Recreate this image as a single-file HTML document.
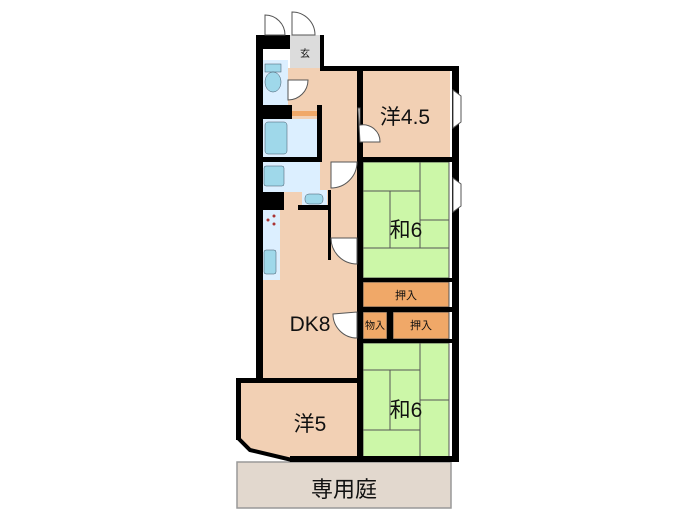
<!DOCTYPE html>
<html><head><meta charset="utf-8"><style>
html,body{margin:0;padding:0;background:#fff;width:700px;height:525px;overflow:hidden}
svg text{font-family:"Liberation Sans","Noto Sans CJK JP",sans-serif;fill:#111}
</style></head><body>
<svg width="700" height="525" viewBox="0 0 700 525" xmlns="http://www.w3.org/2000/svg">
<rect x="237" y="462" width="214" height="46" fill="#e2d8ce" stroke="#999" stroke-width="1.5"/>
<text x="344" y="497" font-size="22" text-anchor="middle">専用庭</text>
<rect x="262" y="68" width="95" height="312" fill="#f2d0b4"/>
<rect x="363" y="70" width="87" height="87" fill="#f2d0b4"/>
<path d="M240 383 H358 V458 H292 L250 448 L240 438 Z" fill="#f2d0b4"/>
<rect x="290" y="35" width="30" height="33" fill="#dcdcdc"/>
<text x="305" y="57" font-size="10" text-anchor="middle">玄</text>
<rect x="262" y="60" width="26" height="45" fill="#dcefff"/>
<rect x="265" y="64" width="16" height="8" fill="#9fd8ea" stroke="#456" stroke-width=".5"/>
<ellipse cx="273" cy="82" rx="8" ry="10" fill="#9fd8ea" stroke="#456" stroke-width=".5"/>
<rect x="262" y="119" width="55" height="38" fill="#dcefff"/>
<rect x="265" y="122" width="22" height="32" rx="3" fill="#9fd8ea" stroke="#456" stroke-width=".5"/>
<rect x="262" y="161" width="58" height="31" fill="#dcefff"/>
<rect x="264" y="166" width="20" height="20" rx="2" fill="#9fd8ea" stroke="#456" stroke-width=".5"/>
<rect x="302" y="190" width="25" height="18" fill="#dcefff"/>
<rect x="305" y="194" width="18" height="10" rx="4" fill="#9fd8ea" stroke="#456" stroke-width=".5"/>
<rect x="262" y="210" width="18" height="70" fill="#dcefff"/>
<circle cx="268" cy="220" r="1.5" fill="#a33"/><circle cx="274" cy="216" r="1.5" fill="#a33"/><circle cx="274" cy="224" r="1.5" fill="#a33"/>
<rect x="264" y="250" width="12" height="24" rx="2" fill="#9fd8ea" stroke="#456" stroke-width=".5"/>
<rect x="292" y="111" width="25" height="5" fill="#f0a868"/>
<g fill="#ccf7a8" stroke="#555" stroke-width="1">
<rect x="363" y="162" width="86" height="116"/>
<line x1="420" y1="162" x2="420" y2="248"/><line x1="363" y1="191" x2="420" y2="191"/>
<line x1="390" y1="191" x2="390" y2="248"/><line x1="363" y1="248" x2="449" y2="248"/><line x1="420" y1="220" x2="449" y2="220"/>
<rect x="363" y="343" width="86" height="116"/>
<line x1="420" y1="343" x2="420" y2="458"/><line x1="363" y1="370" x2="420" y2="370"/>
<line x1="390" y1="370" x2="390" y2="430"/><line x1="363" y1="430" x2="420" y2="430"/><line x1="420" y1="400" x2="449" y2="400"/>
</g>
<rect x="363" y="282" width="86" height="25" fill="#f0a868" stroke="#555"/>
<text x="406" y="299" font-size="11" text-anchor="middle">押入</text>
<rect x="363" y="312" width="24" height="27" fill="#f0a868" stroke="#555"/>
<text x="375" y="329" font-size="10" text-anchor="middle">物入</text>
<rect x="393" y="312" width="56" height="27" fill="#f0a868" stroke="#555"/>
<text x="421" y="329" font-size="11" text-anchor="middle">押入</text>
<g fill="#000">
<rect x="256" y="35" width="7" height="347"/>
<rect x="256" y="35" width="34" height="14"/>
<rect x="320" y="35" width="4" height="35"/>
<rect x="320" y="66" width="137" height="5"/>
<rect x="452" y="66" width="7" height="396"/>
<rect x="357" y="66" width="6" height="396"/>
<rect x="262" y="105" width="30" height="14"/>
<rect x="262" y="157" width="60" height="5"/>
<rect x="317" y="105" width="5" height="52"/>
<rect x="262" y="192" width="22" height="18"/>
<rect x="298" y="205" width="30" height="5"/>
<rect x="328" y="190" width="3" height="70"/>
<rect x="363" y="157" width="90" height="5"/>
<rect x="363" y="278" width="90" height="4"/>
<rect x="363" y="307" width="90" height="5"/>
<rect x="387" y="312" width="6" height="27"/>
<rect x="363" y="339" width="90" height="4"/>
<rect x="236" y="378" width="124" height="5"/>
<rect x="236" y="378" width="5" height="62"/>
<rect x="290" y="456" width="169" height="6"/>
</g>
<path d="M238 438 L250 450 L292 460" stroke="#000" stroke-width="4" fill="none"/>
<g fill="#fff" stroke="#555" stroke-width="1">
<path d="M265 35 V15 A20 20 0 0 1 285 35 Z"/>
<path d="M292 35 V12 A23 23 0 0 1 315 35 Z"/>
<path d="M288 80 V100 A20 20 0 0 0 308 80 Z"/>
<path d="M358 108 H360 V125 A17 17 0 0 1 380 142 H360 Z"/>
<path d="M331 162 V188 A26 26 0 0 0 357 162 Z"/>
<path d="M331 238 H357 V264 A26 26 0 0 1 331 238 Z"/>
<path d="M357 312 V338 A24 24 0 0 1 333 314 Z"/>
<path d="M453 90 L461 96 V122 L453 128 Z"/>
<path d="M453 178 L461 184 V206 L453 212 Z"/>
</g>
<text x="405" y="124" font-size="21" text-anchor="middle">洋4.5</text>
<text x="406" y="237" font-size="21" text-anchor="middle">和6</text>
<text x="310" y="331" font-size="21" text-anchor="middle">DK8</text>
<text x="310" y="431" font-size="21" text-anchor="middle">洋5</text>
<text x="406" y="417" font-size="21" text-anchor="middle">和6</text>
</svg>
</body></html>
